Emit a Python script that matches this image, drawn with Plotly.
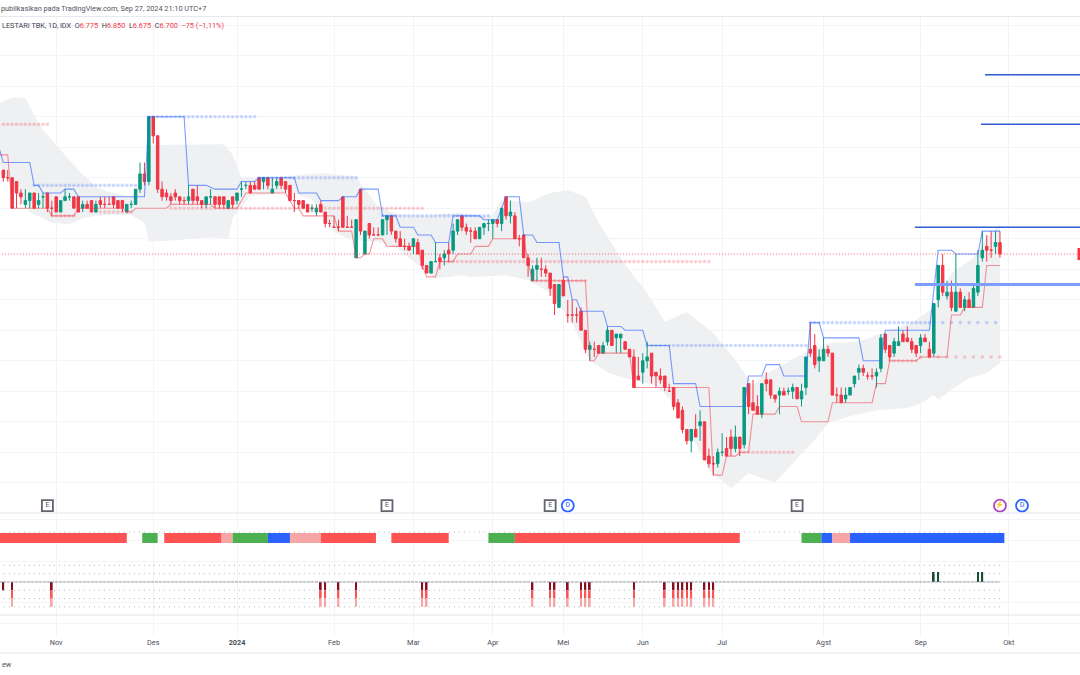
import plotly.graph_objects as go

# ---- price series (daily sessions, one entry per session) ----
open_ = [
 7250,7200,7200,7175,7100,7025,7050,7100,7025,7075,
 7100,7000,7075,6975,7050,7075,7075,7075,7000,7025,
 7050,6975,7050,7025,7025,7075,7050,7050,6975,7025,
 7025,7125,7225,7175,7600,7475,7125,7100,7075,7100,
 7075,7050,7050,7125,7075,7050,7025,7075,7075,7075,
 7075,7000,7075,7050,7125,7150,7150,7150,7200,7175,
 7200,7100,7150,7200,7175,7150,7050,7050,7050,7025,
 7000,6975,7025,6975,6900,6875,6875,7075,6875,6875,
 6675,7125,6700,6900,6825,6825,6825,6925,6950,6850,
 6800,6750,6750,6750,6775,6725,6625,6575,6650,6675,
 6675,6725,6725,6850,6950,6875,6850,6850,6800,6875,
 6900,6900,6925,6900,7075,6950,6950,6800,6825,6675,
 6525,6600,6600,6600,6575,6500,6350,6525,6300,6300,
 6300,6325,6200,6075,6075,6100,6050,6125,6200,6150,
 6150,6125,6075,6025,5900,5925,6000,6050,5925,5900,
 5900,5800,5825,5725,5675,5550,5475,5550,5575,5600,
 5375,5325,5325,5400,5425,5500,5425,5500,5450,5850,
 5725,5700,5650,5875,5875,5775,5775,5800,5800,5800,
 5825,5750,5825,6075,6100,6000,6000,6075,6050,5775,
 5775,5750,5775,5850,5925,5950,5900,5900,5900,5950,
 6175,6100,6050,6100,6175,6150,6125,6100,6100,6150,
 6075,6050,6400,6625,6425,6450,6325,6450,6350,6400,
 6350,6450,6675,6750,6725,6750,6775]
high = [
 7250,7250,7200,7175,7125,7125,7100,7100,7100,7100,
 7100,7050,7075,7050,7125,7100,7075,7075,7050,7050,
 7050,7050,7075,7075,7075,7075,7050,7050,7025,7050,
 7125,7300,7300,7600,7600,7475,7175,7125,7100,7125,
 7075,7075,7150,7125,7150,7050,7075,7125,7075,7075,
 7075,7050,7075,7100,7175,7175,7175,7175,7200,7200,
 7200,7200,7200,7200,7175,7150,7100,7050,7050,7025,
 7025,7025,7050,6975,6925,6950,6925,7075,6950,6925,
 6925,7125,6850,6900,6875,6875,6925,6950,6950,6850,
 6850,6800,6775,6800,6800,6725,6625,6650,6775,6700,
 6725,6775,6900,6925,6950,6900,6875,6875,6875,6900,
 6925,6925,6925,7000,7075,7050,6975,6825,6825,6700,
 6625,6675,6675,6625,6575,6500,6500,6550,6400,6400,
 6350,6350,6200,6125,6125,6100,6125,6225,6200,6175,
 6175,6125,6075,6075,6025,6050,6125,6050,5925,5950,
 5900,5850,5825,5750,5700,5550,5550,5650,5675,5600,
 5425,5375,5425,5525,5500,5550,5575,5500,5825,5850,
 5875,5775,5850,5925,5875,5775,5825,5825,5825,5850,
 5825,5850,6025,6250,6175,6075,6150,6100,6050,5825,
 5825,5825,5825,5900,5975,5975,5925,5950,5950,6175,
 6175,6100,6150,6225,6200,6225,6150,6100,6175,6175,
 6125,6375,6625,6700,6525,6525,6700,6475,6425,6450,
 6500,6725,6850,6825,6850,6850,6850]
low = [
 7175,7175,7000,7000,7025,7000,7000,7000,7000,7000,
 6975,6950,6975,6975,7050,7050,7000,6975,6975,7000,
 6975,6975,7000,7000,7025,7000,7000,6975,6975,7000,
 7025,7100,7150,7150,7425,7100,7050,7050,7025,7050,
 7025,7025,7025,7025,7025,7000,7000,7025,7000,7000,
 7000,7000,7000,7025,7075,7125,7100,7125,7125,7125,
 7125,7100,7125,7125,7100,7050,6975,7000,7000,6975,
 6975,6950,6975,6875,6875,6875,6850,6875,6875,6875,
 6675,6825,6700,6800,6825,6825,6825,6825,6825,6775,
 6750,6725,6725,6700,6700,6600,6575,6575,6650,6600,
 6625,6650,6700,6825,6850,6825,6775,6800,6800,6825,
 6850,6800,6875,6850,6925,6900,6800,6750,6675,6550,
 6525,6525,6550,6550,6425,6300,6350,6425,6250,6250,
 6250,6200,6050,6000,6025,6050,6050,6100,6100,6050,
 6050,6075,6025,5825,5875,5850,5950,5850,5825,5850,
 5800,5800,5675,5625,5525,5450,5400,5500,5475,5350,
 5300,5250,5300,5375,5375,5375,5400,5375,5425,5650,
 5675,5650,5625,5800,5750,5725,5650,5775,5775,5750,
 5750,5700,5775,6025,5950,5925,6000,6025,5775,5725,
 5725,5725,5775,5825,5875,5900,5875,5875,5825,5925,
 6050,6000,6025,6100,6125,6125,6050,6025,6050,6125,
 6025,6025,6350,6425,6400,6325,6325,6350,6325,6350,
 6350,6425,6650,6650,6675,6700,6675]
close = [
 7200,7200,7000,7100,7075,7050,7100,7000,7050,7075,
 7000,7000,6975,7050,7075,7075,7000,6975,7025,7000,
 6975,7025,7025,7025,7025,7025,7000,7000,7025,7025,
 7125,7225,7175,7600,7475,7125,7075,7075,7050,7075,
 7050,7050,7075,7050,7050,7025,7075,7075,7025,7025,
 7025,7050,7025,7100,7125,7150,7100,7125,7125,7200,
 7150,7125,7175,7150,7125,7050,7050,7025,7000,6975,
 7000,7000,6975,6900,6900,6875,6875,6875,6875,6875,
 6925,6850,6850,6825,6825,6825,6925,6950,6850,6800,
 6750,6750,6725,6800,6700,6625,6575,6650,6650,6650,
 6700,6700,6850,6925,6875,6850,6850,6800,6875,6900,
 6900,6925,6900,7000,6950,6975,6800,6800,6675,6625,
 6600,6625,6600,6575,6475,6375,6500,6425,6300,6300,
 6300,6200,6075,6100,6075,6050,6100,6200,6100,6175,
 6175,6075,6025,5825,5875,6000,6025,5900,5900,5875,
 5825,5800,5700,5625,5550,5475,5550,5500,5600,5350,
 5325,5325,5400,5400,5375,5425,5500,5425,5825,5700,
 5675,5650,5850,5850,5775,5750,5800,5775,5800,5825,
 5750,5800,6025,6050,5975,6025,6075,6050,5775,5775,
 5725,5775,5825,5900,5950,5925,5900,5900,5925,6150,
 6075,6025,6125,6125,6125,6125,6075,6050,6150,6125,
 6025,6375,6625,6450,6450,6350,6450,6350,6400,6350,
 6475,6625,6725,6725,6725,6775,6700]

# ---- step channel: upper and lower level, at the sessions where it changes ----
upper_idx = [-1,0,6,7,8,9,13,14,16,17,32,33,41,42,46,48,53,54,57,58,66,67,71,72,76,77,80,81,85,86,89,90,93,94,97,98,101,
             102,108,109,112,113,114,117,118,120,121,126,127,128,129,130,131,136,137,140,141,145,146,151,152,157,158,168,
             169,172,173,176,177,182,183,185,186,194,195,199,200,210,212,215,216,221,222,226]
upper_val = [7400,7300,7300,7150,7150,7100,7100,7125,7125,7075,7075,7600,7600,7150,7150,7125,7125,7175,7175,7200,7200,7100,7100,7050,7050,7075,7075,7125,7125,6950,6950,6875,6875,6825,6825,6775,6775,
             6950,6950,6925,6925,7000,7075,7075,6825,6825,6775,6775,6550,6550,6400,6400,6325,6325,6225,6225,6200,6200,6100,6100,5850,5850,5700,5700,
             5900,5900,5975,5975,5900,5900,6250,6250,6150,6150,6000,6000,6200,6200,6725,6725,6700,6700,6850,6850]
lower_idx = [-1,1,2,10,11,16,17,27,28,29,30,37,38,47,48,53,55,64,66,67,68,75,76,79,80,81,82,83,84,86,87,94,95,96,98,99,102,103,106,107,110,111,117,118,119,
             120,132,133,134,135,142,143,160,161,163,164,166,167,169,170,175,176,180,181,187,188,197,198,200,201,207,208,214,215,217,218,222,223,226]
lower_val = [7350,7350,7000,7000,6950,6950,7000,7000,6975,6975,7000,7000,7025,7025,7000,7000,7100,7100,7000,7000,6950,6950,6850,6850,6675,6675,6700,6700,6800,6800,6750,6750,6625,6550,6550,6650,6650,6700,6700,6750,6750,6800,6800,6800,6650,
             6525,6525,6000,6000,6050,6050,5825,5825,5250,5250,5375,5375,5400,5400,5650,5650,5700,5700,5600,5600,5725,5725,5850,5850,6000,6000,6025,6025,6300,6300,6350,6350,6625,6625]

# ---- grey band ----
band_up_idx = [-1,2,5,7,9,13,17,21,24,29,32,33,50,52,54,60,72,80,81,85,90,96,103,108,111,113,119,124,128,132,135,141,146,150,155,161,166,170,172,179,182,187,194,200,206,211,215,220,223,226]
band_up_val = [7690,7725,7725,7610,7513,7382,7250,7140,7107,7075,7185,7415,7420,7350,7205,7200,7230,7210,7165,7010,6955,6950,6970,6950,6955,7055,7040,7100,7120,7075,6905,6630,6445,6255,6320,6180,6005,5840,5895,6010,6055,6115,6125,6190,6250,6350,6575,6675,6810,6895]
band_lo_idx = [-1,2,4,6,11,15,18,22,29,32,33,39,46,51,52,54,56,65,70,75,79,85,89,93,98,104,106,114,119,124,129,133,137,141,148,152,157,160,165,169,175,180,184,187,191,198,205,208,211,212,215,219,223,226]
band_lo_val = [7285,7150,7055,6975,6905,6895,6935,6955,6955,6905,6780,6790,6810,6805,6935,7010,7080,7105,7055,6845,6790,6780,6745,6650,6540,6560,6550,6560,6530,6445,6250,6000,5925,5885,5840,5725,5460,5285,5165,5265,5200,5360,5480,5590,5630,5675,5690,5720,5775,5745,5810,5885,5920,5985]

# ---- pale dotted levels: first session, last session, price, step between dots ----
blue_dots = [(33,57,7600,1),(7,30,7150,1),(58,80,7200,1),(86,110,6950,1),(146,182,6100,1),(183,210,6250,1),(211,226,6250,2)]
red_dots  = [(-1,10,7550,1),(11,16,6950,1),(22,29,6975,1),(38,95,7000,1),(101,160,6650,1),(120,132,6525,1),(167,179,5400,1),(201,207,6000,1),(208,226,6025,2)]

# ---- drawn horizontal levels: first session, price, colour, width ----
level_start = [222.6, 221.7, 206.7, 206.7]
level_price = [7875, 7550, 6875, 6500]
level_color = ["#2F5BD6", "#2F5BD6", "#2F5BD6", "#7C9DFB"]
level_width = [1.5, 1.5, 1.5, 3]
last_price = 6700

# ---- status strip ----
seg_start = [-1, 31.5, 36.5, 49.5, 52, 60, 65, 72, 88, 110, 116, 181, 185.5, 188, 192]
seg_end   = [28, 35, 49.5, 52, 60, 65, 72, 84.5, 101, 116, 167, 185.5, 188, 192, 227]
seg_color = ["#FF5252", "#4CAF50", "#FF5252", "#F7A5A5", "#4CAF50", "#2962FF", "#F7A5A5", "#FF5252", "#FF5252",
             "#4CAF50", "#FF5252", "#4CAF50", "#2962FF", "#F7A5A5", "#2962FF"]

# ---- signal spikes ----
sell_idx = [2, 11, 72, 73, 76, 80, 95, 96, 120, 124, 125, 128, 131, 132, 133, 143, 150, 152, 153, 154, 155, 156, 159, 160, 161]
sell_small_idx = [0]
buy_idx = [211, 212, 221, 222]
osc_dotted = [6, 2, 1, -1, -2, -3]

# ---- events ----
earn_idx = [10, 87, 124, 180]
div_idx = [128, 231]
split_idx = [226]
event_price = 5051

tick_idx = [12, 34, 53, 75, 93, 111, 127, 145, 163, 186, 208, 228]
tick_txt = ["Nov", "Des", "<b>2024</b>", "Feb", "Mar", "Apr", "Mei", "Jun", "Jul", "Agst", "Sep", "Okt"]

RED, GREEN = "#F23645", "#089981"
sessions = list(range(len(close)))

fig = go.Figure()

# band, on the base axis so that it stays under everything else
fig.add_trace(go.Scatter(x=band_up_idx + band_lo_idx[::-1], y=band_up_val + band_lo_val[::-1], mode="lines",
                         line=dict(width=0), fill="toself", fillcolor="#EFF0F2", yaxis="y", hoverinfo="skip"))

# pale dotted levels
for rows, col in ((blue_dots, "rgba(41,98,255,0.24)"), (red_dots, "rgba(242,54,69,0.24)")):
    for a, b, p, st in rows:
        xs = list(range(a, b + 1, st))
        fig.add_trace(go.Scatter(x=xs, y=[p] * len(xs), mode="markers", yaxis="y3", hoverinfo="skip",
                                 marker=dict(size=3.6, color=col, line=dict(width=0))))

fig.add_trace(go.Candlestick(x=sessions, open=open_, high=high, low=low, close=close, yaxis="y3",
                             whiskerwidth=0, hoverinfo="skip",
                             increasing=dict(line=dict(color=GREEN, width=1), fillcolor=GREEN),
                             decreasing=dict(line=dict(color=RED, width=1), fillcolor=RED)))

fig.add_trace(go.Scatter(x=[-1, 244.2], y=[last_price] * 2, mode="lines", yaxis="y3", hoverinfo="skip",
                         line=dict(color="rgba(242,54,69,0.75)", width=1, dash="1px,2px")))
fig.add_trace(go.Scatter(x=upper_idx, y=upper_val, mode="lines", yaxis="y3", hoverinfo="skip",
                         line=dict(color="rgba(41,98,255,0.62)", width=1.1)))
fig.add_trace(go.Scatter(x=lower_idx, y=lower_val, mode="lines", yaxis="y3", hoverinfo="skip",
                         line=dict(color="rgba(242,54,69,0.52)", width=1.1)))
for s, p, c, w in zip(level_start, level_price, level_color, level_width):
    fig.add_trace(go.Scatter(x=[s, 244.2], y=[p, p], mode="lines", yaxis="y3", hoverinfo="skip",
                             line=dict(color=c, width=w)))

# events
def event(xs, label, colour, symbol, txtcol, size, fs):
    fig.add_trace(go.Scatter(x=xs, y=[event_price] * len(xs), mode="markers+text", yaxis="y3", hoverinfo="skip",
                             text=[label] * len(xs), textposition="middle center", cliponaxis=False,
                             textfont=dict(size=fs, color=txtcol, family="Roboto"),
                             marker=dict(symbol=symbol, size=size, color="white", line=dict(color=colour, width=1.8))))
event(earn_idx, "E", "#62656F", "square", "#50535E", 11, 7)
event(div_idx, "D", "#2962FF", "circle", "#2962FF", 12, 7)
event(split_idx, "⚡", "#AB47BC", "circle", "#AB47BC", 12, 7)

# lower pane
for lv in osc_dotted:
    fig.add_trace(go.Scatter(x=[-1, 226], y=[lv, lv], mode="lines", yaxis="y2", hoverinfo="skip",
                             line=dict(color="#B2B5BE", width=1, dash="1px,4px")))
fig.add_trace(go.Scatter(x=[-1, 226], y=[0, 0], mode="lines", yaxis="y2", hoverinfo="skip",
                         line=dict(color="#9598A1", width=1, dash="3px,1px")))
fig.add_trace(go.Bar(x=[(a + b) / 2 for a, b in zip(seg_start, seg_end)], y=[1.2] * len(seg_start), base=[4.7] * len(seg_start),
                     width=[b - a for a, b in zip(seg_start, seg_end)], yaxis="y2", hoverinfo="skip",
                     marker=dict(color=seg_color, line=dict(width=0))))
for base, col in ((0, "#880E1F"), (-1, "#FF5252"), (-2, "#F7A5A5")):
    xs = sell_idx + (sell_small_idx if base == 0 else [])
    fig.add_trace(go.Bar(x=xs, y=[-1] * len(xs), base=[base] * len(xs), width=0.38, yaxis="y2", hoverinfo="skip",
                         marker=dict(color=col, line=dict(width=0))))
fig.add_trace(go.Bar(x=buy_idx, y=[1.2] * len(buy_idx), base=[0] * len(buy_idx), width=0.38, yaxis="y2", hoverinfo="skip",
                     marker=dict(color="#1B4D33", line=dict(width=0))))

P = lambda px: (675 - px) / 675
price_range = [5002, 8257]
GRID = "#F3F4F8"
fig.update_layout(
    width=1080, height=675, margin=dict(l=0, r=0, t=0, b=0), showlegend=False,
    paper_bgcolor="white", plot_bgcolor="white", barmode="overlay", boxgap=0.2,
    xaxis=dict(range=[-0.75, 244.15], anchor="y2", tickvals=tick_idx, ticktext=tick_txt, showgrid=True, gridcolor=GRID,
               gridwidth=1, zeroline=False, ticks="", showline=False, rangeslider=dict(visible=False),
               tickfont=dict(family="Roboto", size=7.3, color="#4A4E5A")),
    yaxis=dict(domain=[P(513), P(16.5)], range=price_range, tick0=5000, dtick=200, showgrid=True, gridcolor=GRID,
               zeroline=False, showticklabels=False, ticks=""),
    yaxis2=dict(domain=[P(637), P(513)], range=[-6.63, 8.31], tick0=0, dtick=2.5, showgrid=True, gridcolor=GRID,
                zeroline=False, showticklabels=False, ticks=""),
    yaxis3=dict(overlaying="y", range=price_range, visible=False, showgrid=False),
    font=dict(family="Roboto"),
    shapes=[
        dict(type="line", xref="paper", yref="paper", x0=0, x1=1, y0=P(y), y1=P(y), line=dict(color=c, width=w), layer="above")
        for y, c, w in ((16.5, "#E6E8F0", 1), (513, "#E4E6EC", 1.2), (615, "#E0E3EB", 1.2), (653, "#E0E3EB", 1))
    ] + [dict(type="rect", xref="paper", yref="y", x0=1077.5 / 1080, x1=1, y0=last_price - 40, y1=last_price + 40,
              fillcolor=RED, line=dict(width=0), layer="above")],
    annotations=[
        dict(xref="paper", yref="paper", x=-1.5 / 1080, y=P(8.5), xanchor="left", yanchor="middle", showarrow=False,
             text="publikasikan pada TradingView.com, Sep 27, 2024 21:10 UTC+7",
             font=dict(size=7.3, color="#50535E", family="Roboto")),
        dict(xref="paper", yref="paper", x=0, y=P(25.5), xanchor="left", yanchor="middle", showarrow=False,
             text=("LESTARI TBK, 1D, IDX &nbsp;O<span style='color:#F23645'>6.775</span> &nbsp;H<span style='color:#F23645'>6.850</span>"
                   " &nbsp;L<span style='color:#F23645'>6.675</span> &nbsp;C<span style='color:#F23645'>6.700</span>"
                   " &nbsp;<span style='color:#F23645'>−75 (−1,11%)</span>"),
             font=dict(size=7.3, color="#3C4050", family="Roboto")),
        dict(xref="paper", yref="paper", x=0, y=P(664), xanchor="left", yanchor="middle", showarrow=False,
             text="ew", font=dict(size=7.3, color="#50535E", family="Roboto")),
    ],
)

fig.write_html("out.html", config=dict(displayModeBar=False),
               post_script="document.body.style.margin='0';document.documentElement.style.overflow='hidden';")
